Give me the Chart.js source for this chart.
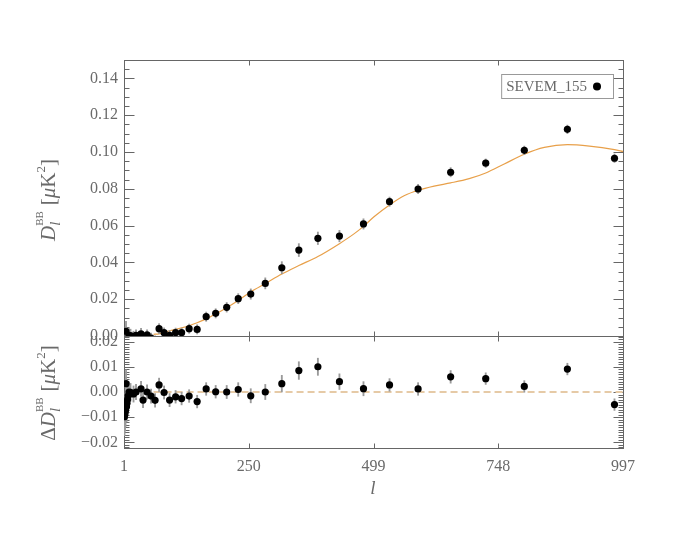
<!DOCTYPE html>
<html><head><meta charset="utf-8">
<script src="https://cdn.jsdelivr.net/npm/chart.js@4.4.1/dist/chart.umd.min.js"></script>
<style>
html,body{margin:0;padding:0;background:#fff;}
#wrap{position:relative;width:700px;height:541px;overflow:hidden;background:#fff;}
canvas{position:absolute;left:0;}
#top{top:0;width:700px;height:352px;}
#bot{top:336px;width:700px;height:205px;}
</style></head><body>
<div id="wrap"><canvas id="top" width="700" height="352"></canvas><canvas id="bot" width="700" height="205"></canvas></div>
<script>
// ---------- data ----------
const binL = [2,3,4,5,6,7,8,9,11,14,20,25,35,39,47,55,63,71,81,92,104,116,131,147,165,184,206,229,254,283,316,350,388,431,479,531,588,653,723,800,886,980];
const spectrum = [-0.0098,-0.0085,-0.0072,0.0025,-0.0058,-0.0045,-0.0030,-0.0015,0.0001,0.0002,-0.0006,0.0003,0.0012,-0.0030,0.0006,-0.0012,-0.0026,0.0040,0.0018,0.0004,0.0018,0.0018,0.0040,0.0036,0.0105,0.0123,0.0156,0.0203,0.0228,0.0286,0.0371,0.0467,0.0531,0.0543,0.0609,0.0730,0.0799,0.0890,0.0939,0.1009,0.1123,0.0966];
const residual = [-0.0098,-0.0085,-0.0072,0.0033,-0.0058,-0.0045,-0.0030,-0.0016,0.0000,-0.0001,-0.0008,0.0000,0.0012,-0.0032,0.0000,-0.0016,-0.0033,0.0028,-0.0002,-0.0032,-0.0019,-0.0026,-0.0016,-0.0038,0.0012,0.0001,0.0000,0.0010,-0.0015,0.0000,0.0033,0.0085,0.0100,0.0041,0.0013,0.0028,0.0012,0.0060,0.0053,0.0022,0.0091,-0.0050];
const errors = [0.0075,0.0070,0.0065,0.0055,0.0060,0.0055,0.0050,0.0045,0.0040,0.0035,0.0032,0.0030,0.0030,0.0030,0.0028,0.0028,0.0027,0.0027,0.0026,0.0026,0.0025,0.0025,0.0025,0.0025,0.0025,0.0025,0.0026,0.0027,0.0028,0.0030,0.0033,0.0035,0.0034,0.0031,0.0028,0.0025,0.0025,0.0025,0.0023,0.0023,0.0023,0.0023];
const theoryL = [60,71,81,92,104,116,131,147,165,184,206,229,254,283,316,350,388,431,460,479,500,531,560,588,620,653,690,723,760,800,840,886,930,980,997];
const theoryD = [0.0009,0.0012,0.0019,0.0028,0.0036,0.0044,0.0056,0.0072,0.0093,0.0120,0.0154,0.0193,0.0240,0.0285,0.0337,0.0383,0.0432,0.0502,0.0555,0.0596,0.0648,0.0712,0.0762,0.0792,0.0815,0.0832,0.0855,0.0886,0.0935,0.0988,0.1025,0.1040,0.1032,0.1013,0.1003];
const zeroL = [60, 997];
const zeroD = [0, 0];
const xTickValues = [1, 250, 499, 748, 997];
const seriesLabel = 'SEVEM_155';

// ---------- style ----------
const FONT = '"Liberation Serif", "DejaVu Serif", serif';
const TEXT = '#6a6a6a';
const AXIS = '#666666';
const ERRC = '#9a9a9a';

function isMult(v, step){ const r = v/step; return Math.abs(r - Math.round(r)) < 1e-6; }
function fmt(v){ if (Math.abs(v) < 1e-9) v = 0; return v.toFixed(2).replace('-', '\u2212'); }
function noPad(axis){ axis.paddingTop = 0; axis.paddingBottom = 0; axis.paddingLeft = 0; axis.paddingRight = 0; }

const framePlugin = {
  id: 'frame',
  beforeDatasetsDraw(chart, args, o) {
    const {ctx, chartArea: a} = chart;
    const xs = chart.scales.x, ys = chart.scales.y;
    const L = Math.round(a.left)+0.5, R = Math.round(a.right)+0.5, T = Math.round(a.top)+0.5, B = Math.round(a.bottom)+0.5;
    ctx.save();
    ctx.strokeStyle = AXIS; ctx.lineWidth = 1;
    ctx.beginPath();
    xs.ticks.forEach(t => {
      const px = Math.round(xs.getPixelForValue(t.value))+0.5;
      ctx.moveTo(px, B); ctx.lineTo(px, B - o.xLen);
      ctx.moveTo(px, T); ctx.lineTo(px, T + o.xLen);
    });
    ys.ticks.forEach(t => {
      const py = Math.round(ys.getPixelForValue(t.value))+0.5;
      const len = isMult(t.value, o.yMajor) ? 10 : 5;
      ctx.moveTo(L, py); ctx.lineTo(L+len, py);
      ctx.moveTo(R, py); ctx.lineTo(R-len, py);
    });
    ctx.stroke();
    ctx.strokeRect(L, T, R-L, B-T);
    ctx.restore();
  }
};

function drawRich(ctx, cx, cy, groups){
  ctx.save();
  ctx.translate(cx, cy);
  ctx.rotate(-Math.PI/2);
  ctx.fillStyle = TEXT; ctx.textBaseline = 'alphabetic'; ctx.textAlign = 'left';
  let total = 0;
  const widths = groups.map(g => { let m = 0; g.forEach(p => { ctx.font = p.f; m = Math.max(m, ctx.measureText(p.t).width + (p.pad || 0)); }); total += m; return m; });
  let x = -total/2;
  groups.forEach((g, i) => { g.forEach(p => { ctx.font = p.f; ctx.fillText(p.t, x, p.dy || 0); }); x += widths[i]; });
  ctx.restore();
}
const F21 = '21px ' + FONT, I21 = 'italic 21px ' + FONT;
const titleParts = [
  [{t:'D', f:I21}],
  [{t:'l', f:'italic 15px ' + FONT, dy:5}, {t:'BB', f:'11px ' + FONT, dy:-12, pad:6}],
  [{t:'[', f:F21}],
  [{t:'\u03bc', f:I21}],
  [{t:'K', f:F21}],
  [{t:'2', f:'13px ' + FONT, dy:-10}],
  [{t:']', f:F21}]
];

const topTitlePlugin = {
  id: 'topTitle',
  afterDraw(chart){
    const ctx = chart.ctx;
    drawRich(ctx, 55, 200, titleParts);
    const a = chart.chartArea;
    ctx.save();
    ctx.font = '15px ' + FONT;
    const label = chart.data.datasets[2].label;
    const tw = ctx.measureText(label).width;
    const right = Math.round(a.right) - 10, top = Math.round(a.top) + 14;
    const dotX = right - 16, textR = dotX - 10, left = textR - tw - 5;
    ctx.strokeStyle = '#999'; ctx.lineWidth = 1;
    ctx.strokeRect(left + 0.5, top + 0.5, right - left, 24);
    ctx.fillStyle = TEXT; ctx.textBaseline = 'middle'; ctx.textAlign = 'left';
    ctx.fillText(label, left + 5, top + 13);
    ctx.fillStyle = '#000';
    ctx.beginPath(); ctx.arc(dotX, top + 12.5, 4, 0, Math.PI*2); ctx.fill();
    ctx.restore();
  }
};
const botTitlePlugin = {
  id: 'botTitle',
  afterDraw(chart){
    const ctx = chart.ctx;
    drawRich(ctx, 55, 57, [[{t:'\u0394', f:F21}]].concat(titleParts));
    ctx.save();
    ctx.fillStyle = TEXT; ctx.font = 'italic 19px ' + FONT; ctx.textAlign = 'center'; ctx.textBaseline = 'middle';
    ctx.fillText('l', 373, 153);
    ctx.restore();
  }
};

function pts(xsArr, ysArr){ return xsArr.map((x, i) => ({x: x, y: ysArr[i]})); }
function bars(xsArr, ysArr, eArr){ return xsArr.map((x, i) => ({x: x, y: [ysArr[i] - eArr[i], ysArr[i] + eArr[i]]})); }

function xScale(showLabels, height){
  return {
    type: 'linear', min: 1, max: 997, offset: false,
    afterBuildTicks: axis => { axis.ticks = xTickValues.map(v => ({value: v})); },
    afterFit: axis => { axis.height = height; noPad(axis); },
    grid: {display: false, drawTicks: false, offset: false},
    border: {display: false},
    ticks: {display: showLabels, autoSkip: false, maxRotation: 0, padding: 9, color: TEXT, font: {family: FONT, size: 16}, callback: v => String(v)}
  };
}
function yScale(min, max, minor, major, pad){
  return {
    type: 'linear', min: min, max: max, beginAtZero: false,
    afterFit: axis => { axis.width = 124; noPad(axis); },
    grid: {display: false, drawTicks: false},
    border: {display: false},
    ticks: {stepSize: minor, autoSkip: false, includeBounds: false, padding: pad, color: TEXT, font: {family: FONT, size: 16},
      callback: v => isMult(v, major) ? fmt(v) : ''}
  };
}

const common = {
  responsive: false, animation: false, devicePixelRatio: 1, events: [],
  plugins: {legend: {display: false}, tooltip: {enabled: false}}
};

new Chart(document.getElementById('top'), {
  type: 'scatter',
  data: {datasets: [
    {type: 'line', label: 'theory', data: pts(theoryL, theoryD), borderColor: '#e8a04a', borderWidth: 1.2, pointRadius: 0, cubicInterpolationMode: 'monotone', fill: false, order: 3},
    {type: 'bar', label: 'err', data: bars(binL, spectrum, errors), backgroundColor: ERRC, barThickness: 1.2, borderWidth: 0, order: 2},
    {type: 'scatter', label: seriesLabel, data: pts(binL, spectrum), pointRadius: 3.6, backgroundColor: '#000', borderWidth: 0, order: 1}
  ]},
  options: Object.assign({}, common, {
    layout: {autoPadding: false, padding: {top: 60, bottom: 16, left: 0, right: 77}},
    scales: {x: xScale(false, 0), y: yScale(0, 0.15, 0.005, 0.02, 6)},
    plugins: Object.assign({}, common.plugins, {frame: {xLen: 5, yMajor: 0.02}})
  }),
  plugins: [framePlugin, topTitlePlugin]
});

new Chart(document.getElementById('bot'), {
  type: 'scatter',
  data: {datasets: [
    {type: 'line', label: 'zero', data: pts(zeroL, zeroD), borderColor: '#e6caa6', borderWidth: 2, borderDash: [7, 4], pointRadius: 0, fill: false, order: 3},
    {type: 'bar', label: 'err', data: bars(binL, residual, errors), backgroundColor: ERRC, barThickness: 1.2, borderWidth: 0, order: 2},
    {type: 'scatter', label: seriesLabel, data: pts(binL, residual), pointRadius: 3.6, backgroundColor: '#000', borderWidth: 0, order: 1}
  ]},
  options: Object.assign({}, common, {
    layout: {autoPadding: false, padding: {top: 0, bottom: 0, left: 0, right: 77}},
    scales: {x: xScale(true, 93), y: yScale(-0.0222, 0.0222, 0.001, 0.01, 6)},
    plugins: Object.assign({}, common.plugins, {frame: {xLen: 5, yMajor: 0.01}})
  }),
  plugins: [framePlugin, botTitlePlugin]
});
</script>
</body></html>
